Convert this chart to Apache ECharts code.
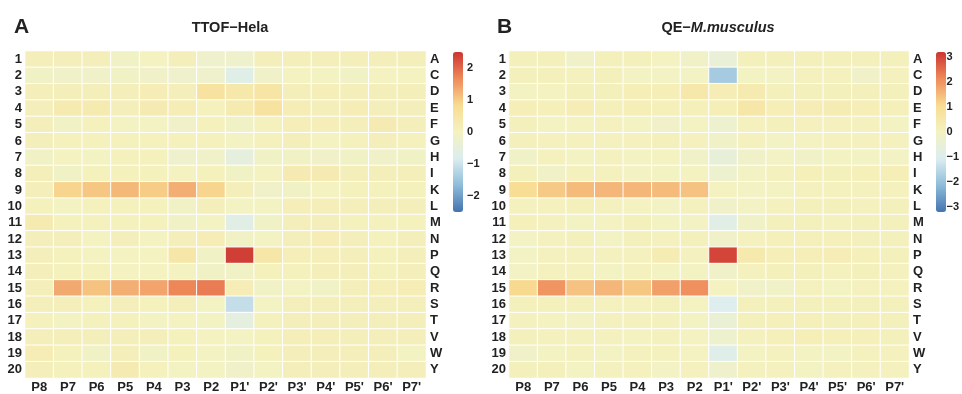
<!DOCTYPE html>
<html>
<head>
<meta charset="utf-8">
<script src="https://cdn.jsdelivr.net/npm/echarts@6/dist/echarts.min.js"></script>
<style>
  html, body { margin: 0; padding: 0; background: #fff; }
  #chart { width: 962px; height: 394px; }
</style>
</head>
<body>
<div id="chart"></div>
<script>
const positions = ["P8", "P7", "P6", "P5", "P4", "P3", "P2", "P1'", "P2'", "P3'", "P4'", "P5'", "P6'", "P7'"];
const residues = ["A", "C", "D", "E", "F", "G", "H", "I", "K", "L", "M", "N", "P", "Q", "R", "S", "T", "V", "W", "Y"];
const rowNumbers = residues.map((r, i) => String(i + 1));

// TTOF-Hela, one row per residue, columns P8 .. P7'
const helaValues = [
  [0.1, 0.1, 0.1, -0.1, 0, 0.1, -0.2, -0.2, 0.1, 0.1, 0.1, 0.1, 0.1, 0.1],
  [-0.1, -0.15, -0.15, -0.1, -0.15, -0.2, -0.2, -0.7, -0.15, 0, -0.05, -0.1, 0, 0],
  [0.1, 0.1, 0.1, 0.1, 0.2, 0.1, 0.6, 0.4, 0.5, 0.1, 0.15, 0.1, 0.1, 0.1],
  [0.1, 0.3, 0.3, 0.1, 0.25, 0.2, 0.05, 0.3, 0.6, 0.2, 0.1, 0.2, 0.1, 0.1],
  [0.1, -0.1, 0.05, -0.05, -0.05, -0.15, 0.05, -0.1, 0.05, 0.15, 0.15, 0.1, 0.25, 0.1],
  [0.1, 0.05, 0.05, 0.05, 0.05, 0.05, 0.05, -0.05, 0.05, 0.1, 0, 0.05, 0.1, 0.05],
  [-0.1, 0, -0.05, 0.05, 0.05, -0.2, -0.15, -0.5, -0.1, -0.1, -0.15, -0.1, -0.15, -0.1],
  [0.1, -0.1, 0.05, 0.05, 0.05, 0, 0.05, -0.1, 0, 0.25, 0.25, 0.1, 0.1, 0.1],
  [0.1, 0.9, 1.05, 1.2, 1.0, 1.3, 0.9, 0.1, -0.15, -0.1, 0, 0.05, 0.05, 0.05],
  [0.05, -0.05, 0.05, 0.05, 0.05, -0.1, 0.1, -0.05, -0.05, 0.15, 0.15, 0.1, 0.1, 0.1],
  [0.3, 0.05, 0.05, 0.05, 0.05, -0.1, -0.05, -0.65, -0.1, 0.1, 0.1, 0.05, 0.05, 0.05],
  [0.1, 0.1, 0, 0.1, 0, 0.1, 0.2, -0.1, -0.05, 0.1, 0.2, 0.1, 0.05, 0.1],
  [0.1, 0.05, 0, 0, 0, 0.45, -0.1, 2.4, 0.45, 0.15, 0.15, 0.1, 0.05, 0.1],
  [0.1, 0.05, 0.05, 0, 0, 0, -0.1, -0.1, 0.05, 0.05, 0.1, 0.1, 0.05, 0.1],
  [0.1, 1.35, 1.1, 1.3, 1.4, 1.7, 1.8, 0.2, -0.1, -0.05, -0.1, 0.1, 0.15, 0.2],
  [0.1, 0.1, 0.05, 0.1, 0.05, 0.1, -0.05, -1.1, -0.05, 0.1, 0.1, 0.1, 0.1, 0.1],
  [0.05, -0.05, 0.05, 0.05, -0.05, 0, -0.05, -0.55, 0.05, 0.1, 0.1, 0.1, 0.1, 0.1],
  [0.1, 0.1, 0.1, 0.1, 0.1, 0.05, 0, -0.05, 0.05, 0.15, 0.15, 0.1, 0.1, 0.1],
  [0.2, 0.05, -0.1, 0.1, -0.1, 0.05, -0.05, -0.1, 0.05, 0.1, 0.1, 0.1, 0.1, -0.05],
  [0.1, 0.05, 0.05, 0.25, 0.05, -0.05, -0.05, -0.15, -0.05, 0.1, 0.1, 0.1, 0.1, 0.1]
];

// QE-M.musculus
const musValues = [
  [0.1, 0.1, -0.2, 0.1, 0.1, 0, -0.15, -0.5, 0.1, 0.1, 0.1, 0.1, 0.1, 0.1],
  [0.1, 0.1, 0.05, 0.1, -0.1, -0.1, -0.1, -1.8, -0.05, -0.1, 0.05, 0.05, -0.2, 0.05],
  [-0.05, 0, 0.1, 0.1, 0.2, 0.2, 0.5, 0.25, 0.35, 0.1, 0.1, 0.1, 0.1, 0.1],
  [0.2, 0.15, 0.25, 0.15, 0.2, 0.15, 0.15, 0.2, 0.55, 0.2, 0.25, 0.3, 0.2, 0.15],
  [0.1, -0.05, 0, 0.05, -0.05, -0.2, -0.05, -0.3, 0.05, 0.1, 0.05, 0.05, 0.05, -0.05],
  [0.1, 0.05, 0.05, 0.05, 0.05, 0.1, 0.05, -0.15, 0.05, -0.1, 0, 0.05, 0.05, 0.05],
  [-0.15, 0.05, -0.05, 0.05, -0.05, 0, -0.15, -0.55, -0.2, -0.1, -0.15, -0.05, -0.1, -0.1],
  [0.1, -0.15, 0.05, 0.05, -0.1, -0.05, 0, -0.3, -0.1, 0.05, 0.15, 0.1, 0.15, 0.2],
  [1.0, 1.3, 1.5, 1.55, 1.55, 1.5, 1.4, 0, -0.1, -0.05, 0.05, 0.05, 0.05, 0.05],
  [0.05, 0.05, 0.1, 0.05, 0, -0.1, 0.05, -0.2, -0.1, 0.05, 0.1, 0.1, 0.05, 0.1],
  [0.15, 0.05, -0.05, 0, 0.1, -0.05, -0.1, -0.85, -0.15, 0.1, 0.1, 0.05, 0.1, 0.1],
  [-0.1, 0.05, 0.1, -0.05, 0.1, 0.05, 0.1, -0.2, 0.05, 0.15, 0.15, 0.15, 0.1, 0.1],
  [-0.1, 0.05, 0.05, 0.05, 0.05, 0.3, 0.05, 3.0, 0.45, 0.2, 0.2, 0.25, 0.15, 0.1],
  [-0.1, 0.05, 0.05, -0.05, 0.05, -0.05, -0.05, -0.2, 0.05, 0.1, 0.1, 0.05, 0.1, 0.05],
  [1.1, 2.0, 1.4, 1.55, 1.35, 1.85, 2.05, 0, -0.2, -0.15, 0.05, -0.05, 0.05, 0.05],
  [0.1, 0.1, 0.1, 0.05, 0.05, 0.1, 0, -1.0, 0.1, 0.1, 0.1, 0.1, 0.1, 0.1],
  [0.05, 0, -0.1, 0.05, 0.05, 0.05, -0.05, -0.45, 0.1, 0.15, 0.15, 0.1, 0.15, 0.1],
  [0.1, 0.05, 0.05, 0.05, 0, 0.05, 0, -0.3, 0.05, 0.15, 0.2, 0.15, 0.15, 0.1],
  [-0.2, -0.05, 0.05, -0.05, 0.05, 0.05, 0, -0.9, -0.05, 0.05, -0.05, -0.1, 0.05, 0.05],
  [0.1, 0.1, -0.05, 0.05, 0.05, -0.1, 0.05, -0.25, 0.05, 0.05, -0.05, 0.05, 0.05, 0.05]
];

const helaTicks = [-2, -1, 0, 1, 2];
const musTicks = [-3, -2, -1, 0, 1, 2, 3];
const helaRange = [-2.5, 2.5];
const musRange = [-3.2, 3.2];

const palette = ["#4474b0", "#8ebcd9", "#dcedf0", "#f4f2c0", "#f8dc92", "#ef8a5a", "#cc3530"];
const FONT = "Liberation Sans, Arial, sans-serif";
const TXT = "#222";

function toCells(rows) {
  const out = [];
  rows.forEach((row, y) => row.forEach((v, x) => out.push([x, y, v])));
  return out;
}
const minus = v => (v < 0 ? "\u2212" + (-v) : String(v));

const panels = [
  { left: 25, width: 401, bar: 453 },
  { left: 509, width: 400, bar: 936 }
];

const labelStyle = { fontFamily: FONT, fontWeight: "bold", fontSize: 13, color: TXT };

const grid = [], xAxis = [], yAxis = [];
panels.forEach((p, i) => {
  grid.push({ left: p.left, width: p.width, top: 51, height: 330 });
  xAxis.push({
    type: "category", gridIndex: i, data: positions, position: "bottom",
    axisLine: { show: false }, axisTick: { show: false },
    axisLabel: Object.assign({ margin: 3, interval: 0 }, labelStyle)
  });
  yAxis.push({
    type: "category", gridIndex: i, data: rowNumbers, inverse: true, position: "left",
    axisLine: { show: false }, axisTick: { show: false },
    axisLabel: Object.assign({ margin: 3, interval: 0 }, labelStyle)
  });
  yAxis.push({
    type: "category", gridIndex: i, data: residues, inverse: true, position: "right",
    axisLine: { show: false }, axisTick: { show: false },
    axisLabel: Object.assign({ margin: 4, interval: 0, align: "left" }, labelStyle)
  });
});

// colour bar tick axes
[[helaRange, helaTicks], [musRange, musTicks]].forEach((cfg, i) => {
  const gi = grid.length;
  grid.push({ left: panels[i].bar, width: 10, top: 52, height: 160 });
  xAxis.push({ type: "category", gridIndex: gi, data: [""], show: false });
  yAxis.push({
    type: "value", gridIndex: gi, min: cfg[0][0], max: cfg[0][1], position: "right",
    splitLine: { show: false }, axisLine: { show: false },
    axisTick: { show: false },
    axisLabel: {
      customValues: cfg[1], margin: 4, formatter: minus,
      fontFamily: FONT, fontWeight: "bold", fontSize: 11, color: TXT
    }
  });
});

const option = {
  backgroundColor: "#fff",
  animation: false,
  title: [
    { text: "A", left: 9, top: 12, textStyle: { fontFamily: FONT, fontWeight: "bold", fontSize: 21, color: TXT } },
    { text: "TTOF\u2212Hela", left: 225, top: 15, textAlign: "center",
      textStyle: { fontFamily: FONT, fontWeight: "bold", fontSize: 14.5, color: TXT } },
    { text: "B", left: 492, top: 12, textStyle: { fontFamily: FONT, fontWeight: "bold", fontSize: 21, color: TXT } },
    { text: "{n|QE\u2212}{i|M.musculus}", left: 713, top: 15, textAlign: "center",
      textStyle: {
        fontFamily: FONT, fontWeight: "bold", fontSize: 14.5, color: TXT,
        rich: {
          n: { fontFamily: FONT, fontWeight: "bold", fontSize: 14.5, color: TXT },
          i: { fontFamily: FONT, fontWeight: "bold", fontStyle: "italic", fontSize: 14.5, color: TXT }
        }
      } }
  ],
  grid: grid,
  xAxis: xAxis,
  yAxis: yAxis,
  visualMap: [
    { type: "continuous", seriesIndex: 0, min: helaRange[0], max: helaRange[1], calculable: false,
      hoverLink: false, left: panels[0].bar, top: 52, itemWidth: 10, itemHeight: 160, padding: 0,
      text: null, showLabel: false, inRange: { color: palette } },
    { type: "continuous", seriesIndex: 1, min: musRange[0], max: musRange[1], calculable: false,
      hoverLink: false, left: panels[1].bar, top: 52, itemWidth: 10, itemHeight: 160, padding: 0,
      text: null, showLabel: false, inRange: { color: palette } }
  ],
  series: [
    { type: "heatmap", xAxisIndex: 0, yAxisIndex: 0, data: toCells(helaValues),
      itemStyle: { borderColor: "#fff", borderWidth: 1 } },
    { type: "heatmap", xAxisIndex: 1, yAxisIndex: 2, data: toCells(musValues),
      itemStyle: { borderColor: "#fff", borderWidth: 1 } }
  ]
};

const chart = echarts.init(document.getElementById("chart"), null, { renderer: "canvas" });
chart.setOption(option);
</script>
</body>
</html>
